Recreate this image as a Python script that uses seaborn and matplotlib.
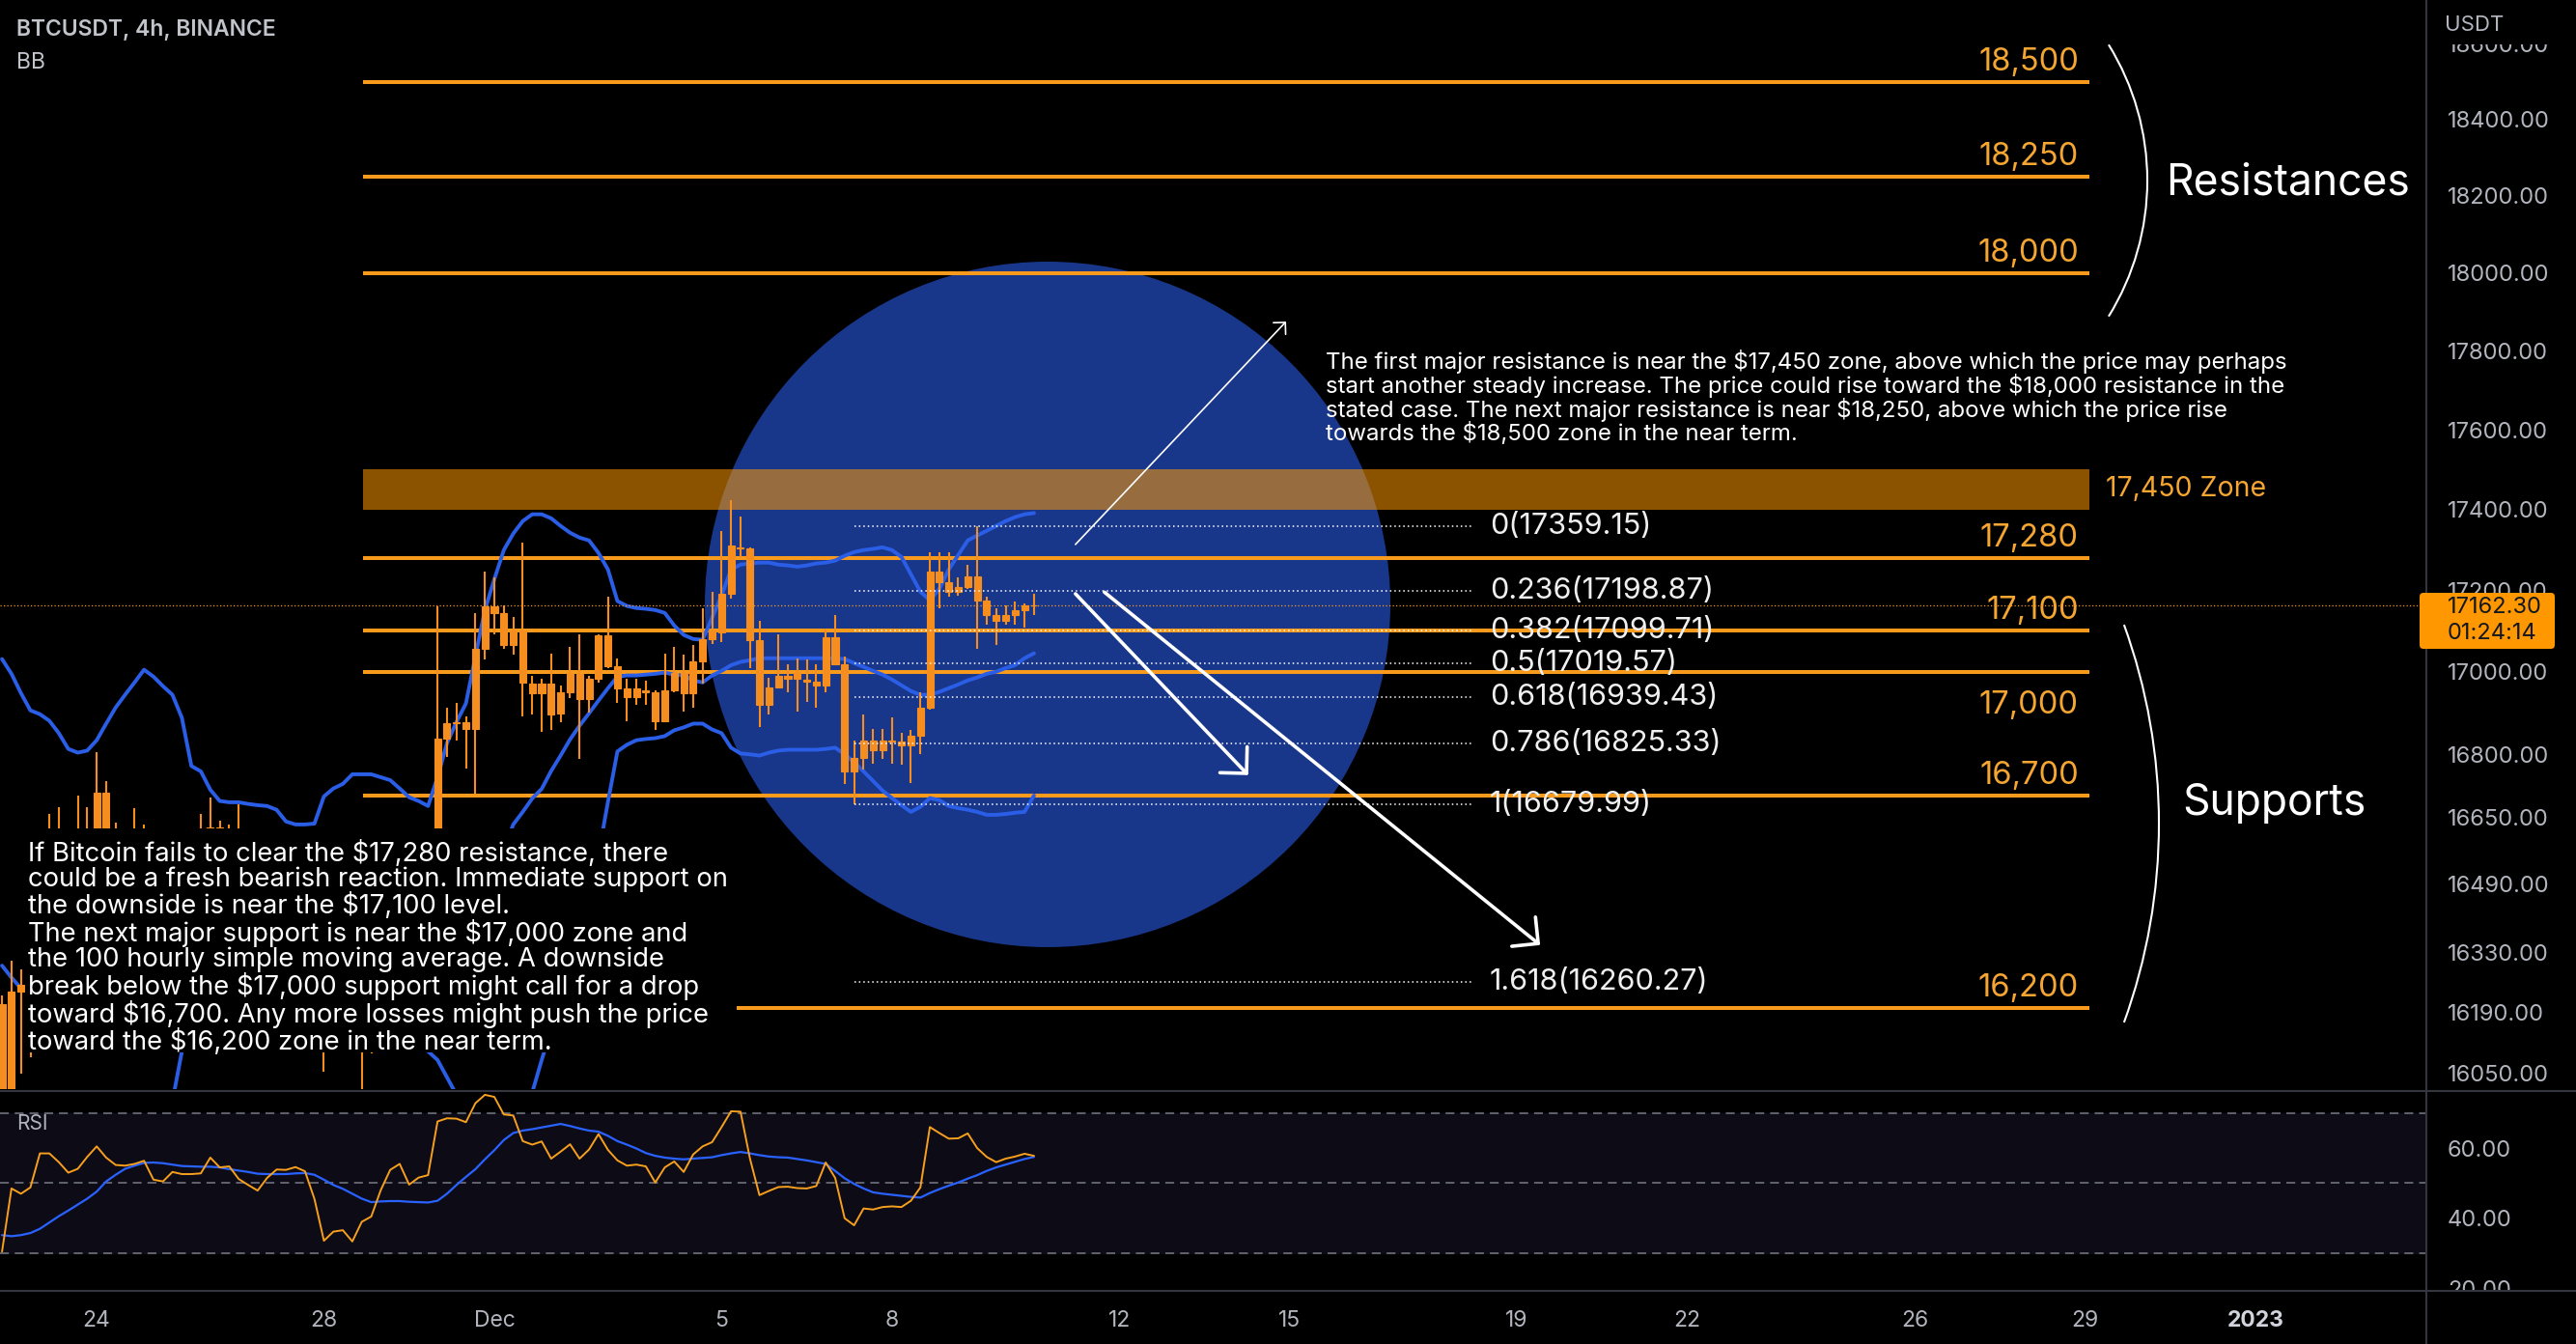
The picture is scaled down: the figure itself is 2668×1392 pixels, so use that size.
import numpy as np
import pandas as pd
import matplotlib
matplotlib.use("Agg")
import matplotlib.pyplot as plt
import matplotlib.dates as mdates
import matplotlib.ticker as mticker
from matplotlib.patches import Rectangle, Ellipse, Arc, FancyBboxPatch
from matplotlib.lines import Line2D
from matplotlib.transforms import IdentityTransform
import seaborn as sns

# ---------------- data ----------------
first_candle = "2022-11-22 08:00"   # 4h candles
opens = [16210, 15990, 16239, 16255, 16340, 16520, 16590, 16560, 16540, 16600, 16580, 16709, 16600, 16550, 16520, 16590,
         16540, 16500, 16540, 16520, 16490, 16560, 16600, 16626, 16580, 16540, 16520, 16450, 16420, 16400, 16350, 16300,
         16250, 16200, 16150, 16120, 16200, 16250, 16180, 16100, 16200, 16260, 16360, 16430, 16460, 16420, 16440,
         16839, 16876, 16878, 16862, 17057, 17161, 17144, 17066, 17101, 16972, 16948, 16972, 16899, 16951, 16995, 16934,
         16984, 17090, 17014, 16960, 16939, 16955, 16951, 16881, 16955, 16998, 16948, 17026, 17080, 17097, 17192, 17306,
         17304, 17078, 16920, 16962, 16991, 16984, 16981, 16976, 16967, 17085, 17019, 16759, 16791, 16834, 16811, 16834,
         16832, 16821, 16846, 16913, 17246, 17220, 17196, 17208, 17234, 17175, 17139, 17125, 17139, 17151, 17163]
highs = [16230, 16311, 16289, 16380, 16560, 16658, 16674, 16610, 16702, 16674, 16806, 16736, 16637, 16610, 16672, 16632,
         16600, 16580, 16600, 16590, 16600, 16658, 16697, 16642, 16632, 16681, 16580, 16520, 16480, 16450, 16420, 16380,
         16320, 16280, 16220, 16250, 16300, 16290, 16220, 16250, 16300, 16400, 16480, 16520, 16540, 16500, 17160,
         16913, 16925, 16892, 17144, 17246, 17232, 17163, 17135, 17318, 16991, 16984, 17045, 16967, 17061, 17092, 16991,
         17092, 17184, 17033, 16984, 16984, 16979, 16955, 17045, 17061, 17042, 17066, 17156, 17196, 17347, 17424, 17383,
         17306, 17125, 16986, 17092, 17019, 17033, 17031, 17019, 17104, 17139, 17038, 16834, 16897, 16862, 16862, 16890,
         16851, 16858, 16951, 17294, 17294, 17294, 17232, 17263, 17359.15, 17184, 17156, 17163, 17173, 17168, 17192]
lows = [15950, 15985, 16049, 16087, 16300, 16480, 16520, 16480, 16500, 16540, 16560, 16560, 16520, 16480, 16500, 16510,
        16460, 16450, 16480, 16440, 16470, 16530, 16560, 16540, 16500, 16500, 16420, 16380, 16350, 16300, 16280, 16200,
        16150, 16110, 16052, 16100, 16150, 16120, 16000, 16095, 16180, 16230, 16320, 16380, 16400, 16380, 16400,
        16793, 16834, 16765, 16706, 17031, 17092, 17057, 17042, 16892, 16897, 16855, 16858, 16878, 16937, 16788, 16901,
        16974, 17009, 16925, 16881, 16920, 16920, 16858, 16878, 16950, 16904, 16913, 16972, 17068, 17073, 17180, 17280,
        17009, 16867, 16897, 16960, 16951, 16904, 16927, 16913, 16951, 17019, 16729, 16679.99, 16763, 16777, 16788, 16777,
        16775, 16731, 16800, 16908, 17156, 17184, 17187, 17203, 17057, 17116, 17066, 17116, 17116, 17109, 17139]
closes = [15990, 16239, 16255, 16340, 16520, 16590, 16560, 16540, 16600, 16580, 16709, 16600, 16550, 16520, 16590, 16540,
          16500, 16540, 16520, 16490, 16560, 16600, 16626, 16580, 16540, 16520, 16450, 16420, 16400, 16350, 16300, 16250,
          16200, 16150, 16120, 16200, 16250, 16180, 16100, 16200, 16260, 16360, 16430, 16460, 16420, 16440, 16839,
          16876, 16878, 16862, 17057, 17161, 17144, 17066, 17101, 16974, 16948, 16972, 16897, 16951, 16995, 16934, 16984,
          17090, 17014, 16960, 16939, 16960, 16951, 16881, 16955, 16998, 16948, 17026, 17080, 17101, 17192, 17311, 17304,
          17078, 16920, 16962, 16991, 16984, 16998, 16976, 16967, 17085, 17019, 16759, 16791, 16834, 16811, 16834, 16832,
          16821, 16846, 16913, 17246, 17220, 17196, 17208, 17234, 17175, 17139, 17125, 17139, 17151, 17163, 17162.30]

bb_upper = [17031, 16995, 16948, 16906, 16897, 16881, 16851, 16813, 16804, 16809, 16834, 16874, 16913, 16944, 16974, 17005,
            16988, 16965, 16944, 16888, 16772, 16759, 16715, 16688, 16685, 16685, 16681, 16678, 16676, 16667, 16639, 16632,
            16632, 16634, 16699, 16718, 16729, 16752, 16752, 16752, 16745, 16738, 16718, 16697, 16688, 16676, 16745,
            16827, 16878, 16923, 17038, 17151, 17227, 17299, 17340, 17371, 17388, 17388, 17378, 17359, 17342, 17330, 17323,
            17292, 17251, 17173, 17161, 17156, 17154, 17151, 17144, 17113, 17090, 17080, 17078, 17132, 17187, 17251, 17263,
            17266, 17268, 17268, 17263, 17261, 17258, 17261, 17266, 17268, 17273, 17285, 17294, 17299, 17302, 17306, 17299,
            17282, 17239, 17196, 17175, 17203, 17251, 17287, 17323, 17335, 17347, 17359, 17371, 17381, 17388, 17391]
bb_mid = [16299, 16271, 16246, 16240, 16245, 16260, 16280, 16300, 16320, 16345, 16370, 16400, 16425, 16450, 16470, 16490,
          16505, 16515, 16525, 16530, 16540, 16550, 16555, 16560, 16560, 16560, 16555, 16545, 16535, 16520, 16500, 16480,
          16460, 16440, 16415, 16400, 16390, 16380, 16370, 16365, 16360, 16360, 16365, 16375, 16385, 16390, 16412,
          16434, 16439, 16437, 16469, 16506, 16534, 16572, 16632, 16662, 16694, 16717, 16760, 16797, 16836, 16869, 16899,
          16930, 16960, 16988, 16991, 16991, 16993, 16995, 16998, 16993, 16991, 16979, 16974, 16991, 17002, 17016, 17024,
          17028, 17033, 17033, 17033, 17033, 17033, 17033, 17033, 17033, 17033, 17031, 17021, 17012, 17002, 16993, 16981,
          16967, 16953, 16944, 16944, 16951, 16960, 16969, 16979, 16986, 16995, 17000, 17009, 17016, 17033, 17045]
bb_lower = [15567, 15547, 15544, 15574, 15593, 15639, 15709, 15787, 15836, 15881, 15906, 15926, 15937, 15950, 15955, 15960,
            15965, 15970, 15985, 16100, 16200, 16260, 16320, 16370, 16400, 16420, 16420, 16410, 16395, 16375, 16355, 16330,
            16290, 16250, 16200, 16170, 16150, 16135, 16125, 16120, 16118, 16118, 16120, 16118, 16112, 16100, 16080,
            16040, 16000, 15950, 15900, 15860, 15840, 15845, 15880, 15940, 16005, 16080, 16150, 16230, 16310, 16390, 16475,
            16560, 16686, 16807, 16823, 16834, 16837, 16839, 16844, 16858, 16865, 16874, 16874, 16860, 16851, 16816, 16802,
            16800, 16797, 16804, 16809, 16811, 16811, 16811, 16811, 16813, 16816, 16800, 16781, 16759, 16736, 16713, 16695,
            16678, 16662, 16674, 16695, 16690, 16676, 16671, 16667, 16662, 16655, 16655, 16657, 16660, 16662, 16701]

rsi = [30.5, 48.5, 47.0, 48.8, 58.5, 58.5, 56.0, 53.0, 54.1, 57.5, 60.5, 57.3, 55.2, 55.0, 55.5, 56.4,
       51.0, 50.5, 53.2, 52.6, 52.6, 52.8, 57.3, 54.5, 54.8, 51.2, 49.5, 47.9, 51.5, 53.9, 53.8, 54.6,
       53.4, 45.5, 33.6, 36.2, 36.6, 33.4, 39.0, 40.5, 48.0, 53.8, 55.5, 49.6, 51.6, 52.3, 67.6,
       68.5, 68.4, 67.4, 72.8, 75.2, 74.6, 69.6, 69.3, 62.0, 61.0, 61.9, 57.0, 59.0, 61.1, 57.0, 59.6,
       64.0, 59.5, 56.5, 55.0, 55.3, 54.8, 50.2, 54.5, 56.2, 53.2, 58.2, 60.5, 61.7, 66.0, 70.5, 70.4,
       57.0, 46.6, 47.8, 48.9, 49.0, 48.6, 48.5, 49.2, 55.9, 51.5, 40.0, 38.0, 42.8, 42.5, 43.2, 43.4,
       43.2, 45.0, 48.8, 66.0, 64.3, 62.7, 62.8, 64.2, 60.0, 57.5, 56.0, 57.0, 57.6, 58.4, 57.8]
rsi_ma = [35.2, 34.9, 35.2, 35.8, 37.0, 38.8, 40.6, 42.2, 43.9, 45.6, 47.6, 50.5, 52.4, 54.1, 55.0, 55.8,
          55.9, 55.7, 55.3, 54.9, 54.8, 54.7, 54.7, 54.5, 54.0, 53.6, 53.2, 52.7, 52.6, 52.6, 52.6, 52.8,
          52.9, 52.4, 51.0, 49.5, 48.4, 47.0, 45.6, 44.6, 44.8, 44.9, 44.9, 44.7, 44.6, 44.5, 45.0,
          47.0, 49.5, 51.8, 54.0, 56.8, 59.4, 62.3, 64.3, 65.0, 65.4, 65.9, 66.4, 66.9, 66.3, 65.6, 65.0,
          64.7, 63.5, 62.0, 61.0, 59.9, 58.6, 57.8, 57.3, 57.0, 56.8, 57.0, 57.2, 57.4, 58.0, 58.5, 58.9,
          58.5, 58.0, 57.6, 57.4, 57.3, 56.9, 56.5, 56.0, 55.5, 53.5, 51.4, 49.8, 48.5, 47.4, 47.0, 46.7,
          46.4, 46.1, 45.9, 47.2, 48.3, 49.3, 50.2, 51.3, 52.3, 53.5, 54.5, 55.3, 56.1, 56.9, 57.5]

level_values = [18500, 18250, 18000, 17280, 17100, 17000, 16700, 16200]
level_texts = ["18,500", "18,250", "18,000", "17,280", "17,100", "17,000", "16,700", "16,200"]
level_label_below = [False, False, False, False, False, True, False, False]
zone_low, zone_high, zone_text = 17400, 17500, "17,450 Zone"

fib_ratios = ["0", "0.236", "0.382", "0.5", "0.618", "0.786", "1", "1.618"]
fib_prices = [17359.15, 17198.87, 17099.71, 17019.57, 16939.43, 16825.33, 16679.99, 16260.27]

price_ticks = [18600, 18400, 18200, 18000, 17800, 17600, 17400, 17200, 17000, 16800, 16650, 16490, 16330, 16190, 16050]
rsi_ticks = [20, 40, 60]
rsi_bands = [70, 50, 30]
time_ticks = ["2022-11-24", "2022-11-28", "2022-12-01", "2022-12-05", "2022-12-08", "2022-12-12", "2022-12-15",
              "2022-12-19", "2022-12-22", "2022-12-26", "2022-12-29", "2023-01-01"]
time_labels = ["24", "28", "Dec", "5", "8", "12", "15", "19", "22", "26", "29", "2023"]

last_price = 17162.30
countdown = "01:24:14"

text_up = ("The first major resistance is near the $17,450 zone, above which the price may perhaps\n"
           "start another steady increase. The price could rise toward the $18,000 resistance in the\n"
           "stated case. The next major resistance is near $18,250, above which the price rise\n"
           "towards the $18,500 zone in the near term.")
text_down = ("If Bitcoin fails to clear the $17,280 resistance, there\n"
             "could be a fresh bearish reaction. Immediate support on\n"
             "the downside is near the $17,100 level.\n"
             "The next major support is near the $17,000 zone and\n"
             "the 100 hourly simple moving average. A downside\n"
             "break below the $17,000 support might call for a drop\n"
             "toward $16,700. Any more losses might push the price\n"
             "toward the $16,200 zone in the near term.")

# ---------------- style ----------------
sns.set_theme(style="dark", rc={"axes.facecolor": "black", "figure.facecolor": "black"})
plt.rcParams["font.family"] = ["Inter", "DejaVu Sans"]

W, H, DPI = 2668, 1392, 100
ORANGE = "#f89a1c"
CANDLE = "#f68d1f"
LABEL_OR = "#f5a531"
BLUE = "#2b5ee6"
GRAY = "#b2b5be"
SEP = "#34363f"

fig = plt.figure(figsize=(W / DPI, H / DPI), dpi=DPI, facecolor="black")
ax = fig.add_axes([0, 264 / H, 2513 / W, 1128 / H])
axr = fig.add_axes([0, 55 / H, 2513 / W, 206 / H], sharex=ax)
for a in (ax, axr):
    a.set_facecolor("black")
    a.grid(False)
    for s in a.spines.values():
        s.set_visible(False)

times = pd.date_range(first_candle, periods=len(opens), freq="4h")
df = pd.DataFrame({"x": mdates.date2num(times), "open": opens, "high": highs, "low": lows, "close": closes,
                   "bb_upper": bb_upper, "bb_mid": bb_mid, "bb_lower": bb_lower, "rsi": rsi, "rsi_ma": rsi_ma})

def tnum(s):
    return mdates.date2num(pd.Timestamp(s))

ax.set_yscale("log")
ax.set_ylim(16013, 18718)
ax.set_xlim(tnum("2022-11-22 07:09"), tnum("2023-01-04 00:14"))

# blue circle highlight
ax.add_patch(Ellipse((0.43176, 0.44504), 0.28253, 0.62943, transform=ax.transAxes,
                     facecolor="#19378a", edgecolor="none", zorder=1))

lvl_start, lvl_end = tnum("2022-11-28 16:30"), tnum("2022-12-29 01:50")
# zone
ax.add_patch(Rectangle((lvl_start, zone_low), lvl_end - lvl_start, zone_high - zone_low,
                       facecolor="#ff9800", alpha=0.55, edgecolor="none", zorder=2))
ax.annotate(zone_text, xy=(lvl_end, (zone_low * zone_high) ** 0.5), xytext=(17, 0), textcoords="offset pixels",
            ha="left", va="center", color=LABEL_OR, fontsize=20.5, zorder=7)
# levels
ax.hlines(level_values, lvl_start, lvl_end, color=ORANGE, lw=2.9, zorder=3)
for v, t, below in zip(level_values, level_texts, level_label_below):
    ax.annotate(t, xy=(lvl_end, v), xytext=(-11, -43 if below else 12), textcoords="offset pixels",
                ha="right", va="baseline", color=LABEL_OR, fontsize=23.5, zorder=7)

# Bollinger bands
for col in ["bb_upper", "bb_mid", "bb_lower"]:
    sns.lineplot(data=df, x="x", y=col, ax=ax, color=BLUE, lw=2.8, sort=False, estimator=None, zorder=4)

# candles
bw = 0.12
ax.vlines(df["x"], df["low"], df["high"], color=CANDLE, lw=1.5, zorder=5)
ax.bar(df["x"], (df["close"] - df["open"]).abs(), bottom=np.minimum(df["open"], df["close"]), width=bw,
       color=CANDLE, edgecolor=CANDLE, linewidth=0.8, zorder=5)

# fib retracement
fib_start, fib_end = tnum("2022-12-07 08:00"), tnum("2022-12-18 05:35")
ax.hlines(fib_prices, fib_start, fib_end, color="white", lw=1.1, linestyles=[(0, (1, 2))], zorder=6)
for r, p in zip(fib_ratios, fib_prices):
    ax.annotate(f"{r}({p:.2f})", xy=(fib_end, p), xytext=(17, 0), textcoords="offset pixels",
                ha="left", va="center", color="#f0f0f0", fontsize=22, zorder=7)

# last price dotted line
ax.axhline(last_price, color=ORANGE, lw=0.9, linestyle=(0, (1, 1.8)), zorder=7)

# arrows
arrow_specs = [(("2022-12-11 05:30", 17313), ("2022-12-14 22:30", 17875), 1.2, 9),
               (("2022-12-11 05:30", 17191), ("2022-12-14 06:30", 16750), 2.6, 20),
               (("2022-12-11 17:45", 17195), ("2022-12-19 09:50", 16347), 2.6, 20)]
for (t0, p0), (t1, p1), lw, ms in arrow_specs:
    ax.annotate("", xy=(tnum(t1), p1), xytext=(tnum(t0), p0),
                arrowprops=dict(arrowstyle="->,head_length=0.7,head_width=0.7", color="white", lw=lw,
                                shrinkA=0, shrinkB=0, mutation_scale=ms), zorder=9)

# text blocks
ax.text(0.5464, 0.6791, text_up.replace("$", r"\$"), transform=ax.transAxes, ha="left", va="top",
        color="white", fontsize=17.3, linespacing=1.0, zorder=9)
ax.add_patch(Rectangle((0.01035, 0.0337), 0.2933, 0.2057, transform=ax.transAxes,
                       facecolor="black", edgecolor="none", zorder=8))
ax.text(0.01154, 0.2290, text_down.replace("$", r"\$"), transform=ax.transAxes, ha="left", va="top",
        color="white", fontsize=19.7, linespacing=0.995, zorder=9)

# price axis
ax.yaxis.tick_right()
ax.yaxis.set_major_locator(mticker.FixedLocator(price_ticks))
ax.yaxis.set_major_formatter(mticker.FuncFormatter(lambda v, p: f"{v:.2f}"))
ax.yaxis.set_minor_locator(mticker.NullLocator())
ax.yaxis.set_minor_formatter(mticker.NullFormatter())
ax.tick_params(axis="y", length=0, pad=15.8, labelsize=17, labelcolor=GRAY)
ax.tick_params(axis="x", length=0, labelbottom=False)
ax.set_xlabel("")
ax.set_ylabel("")

# ---------------- RSI panel ----------------
axr.set_ylim(19.3, 76)
axr.axhspan(30, 70, color="#0d0b16", zorder=0)
for lv in rsi_bands:
    axr.axhline(lv, color="#787b86", lw=1.1, linestyle=(0, (6, 4)), zorder=1)
sns.lineplot(data=df, x="x", y="rsi_ma", ax=axr, color="#2962ff", lw=1.6, sort=False, estimator=None, zorder=3)
sns.lineplot(data=df, x="x", y="rsi", ax=axr, color="#f7a01e", lw=1.4, sort=False, estimator=None, zorder=4)
axr.yaxis.tick_right()
axr.yaxis.set_major_locator(mticker.FixedLocator(rsi_ticks))
axr.yaxis.set_major_formatter(mticker.FuncFormatter(lambda v, p: f"{v:.2f}"))
axr.tick_params(axis="y", length=0, pad=15.8, labelsize=17, labelcolor=GRAY)
axr.set_xticks([tnum(t) for t in time_ticks])
axr.set_xticklabels(time_labels)
axr.tick_params(axis="x", length=0, pad=14.5, labelsize=16.5, labelcolor=GRAY, labelbottom=True)
lab = axr.get_xticklabels()[-1]
lab.set_fontweight("bold")
lab.set_color("#d1d4dc")
axr.set_xlabel("")
axr.set_ylabel("")
axr.text(0.0068, 0.84, "RSI", transform=axr.transAxes, ha="left", va="center", color=GRAY, fontsize=15)

# ---------------- figure-level decorations ----------------
idt = IdentityTransform()
fig.add_artist(Rectangle((2514, 0), 154, H - 1338, transform=idt, facecolor="black", edgecolor="none", zorder=9))
fig.add_artist(Rectangle((2514, H - 46), 154, 46, transform=idt, facecolor="black", edgecolor="none", zorder=9))
fig.text(2532, H - 26, "USDT", transform=idt, ha="left", va="center", color=GRAY, fontsize=16, zorder=10)
for yy in (1130, 1337):
    fig.add_artist(Line2D([0, W], [H - yy, H - yy], transform=idt, color=SEP, lw=1.5, zorder=10))
fig.add_artist(Line2D([2513, 2513], [0, H], transform=idt, color=SEP, lw=1.5, zorder=10))

fig.add_artist(FancyBboxPatch((2506, H - 672), 140, 58, boxstyle="round,pad=0,rounding_size=4",
                              transform=idt, facecolor="#ff9800", edgecolor="none", zorder=11))
fig.text(2535, H - 629, f"{last_price:.2f}", transform=idt, ha="left", va="center", color="#131722",
         fontsize=17, zorder=12)
fig.text(2535, H - 656, countdown, transform=idt, ha="left", va="center", color="#131722", fontsize=17, zorder=12)

fig.text(17, H - 31, "BTCUSDT, 4h, BINANCE", transform=idt, ha="left", va="center", color="#c2c4cc",
         fontsize=16.5, fontweight="semibold")
fig.text(17, H - 65, "BB", transform=idt, ha="left", va="center", color="#c2c4cc", fontsize=16.5)

# brackets
fig.add_artist(Arc((1957, H - 187), 2 * 267, 2 * 267, theta1=-31.8, theta2=31.8, transform=idt,
                   color="white", lw=1.5, zorder=10))
fig.add_artist(Arc((1631, H - 853), 2 * 605, 2 * 605, theta1=-19.9, theta2=19.9, transform=idt,
                   color="white", lw=1.5, zorder=10))
fig.text(2243, H - 189, "Resistances", transform=idt, ha="left", va="center", color="white", fontsize=32)
fig.text(2260, H - 832, "Supports", transform=idt, ha="left", va="center", color="white", fontsize=32)

fig.savefig("out.png", dpi=DPI, facecolor="black")
